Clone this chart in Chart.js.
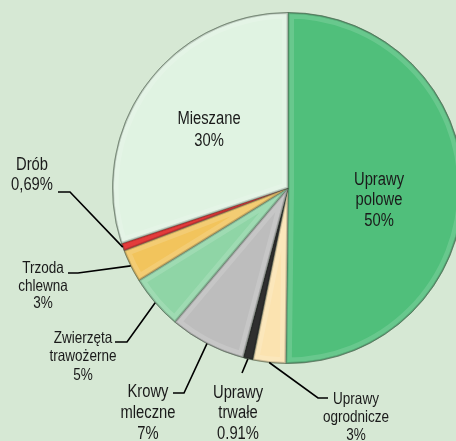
<!DOCTYPE html>
<html>
<head>
<meta charset="utf-8">
<script src="https://cdn.jsdelivr.net/npm/chart.js@4"></script>
<style>
  html, body { margin: 0; padding: 0; background: #d6e8d4; }
  #wrap { width: 456px; height: 441px; overflow: hidden; position: relative; background: #d6e8d4; }
  canvas { display: block; }
</style>
</head>
<body>
<div id="wrap"><canvas id="c" width="480" height="441" style="width:480px;height:441px"></canvas></div>
<script>
// ---- data ----
const categories = ["Uprawy polowe", "Uprawy ogrodnicze", "Uprawy trwałe", "Krowy mleczne",
                    "Zwierzęta trawożerne", "Trzoda chlewna", "Drób", "Mieszane"];
const shares = [50, 3, 0.91, 7, 5, 3, 0.69, 30];
const labelLines = [
  ["Uprawy", "polowe", "50%"],
  ["Uprawy", "ogrodnicze", "3%"],
  ["Uprawy", "trwałe", "0.91%"],
  ["Krowy", "mleczne", "7%"],
  ["Zwierzęta", "trawożerne", "5%"],
  ["Trzoda", "chlewna", "3%"],
  ["Drób", "0,69%"],
  ["Mieszane", "30%"]
];
const sliceColors = ["#50bf7b", "#fbe3b0", "#0d0d0d", "#bdbdbd", "#8fd5a6", "#f2c45c", "#e01b1b", "#e0f3e2"];

// ---- label layout (styling / placement only) ----
const BIG = "18px 'Liberation Sans', Arial, sans-serif";
const SMALL = "16.5px 'Liberation Sans', Arial, sans-serif";
const NARROW = 0.82;
const layout = [
  { inside: true, x: 379, y: [180, 200.5, 221], font: BIG },
  { elbow: [318, 398], end: [328, 398], x: 356, y: [399, 417, 435], font: SMALL },
  { elbow: [242, 373], end: null, x: 238, y: [393, 413.5, 434], font: BIG },
  { elbow: [184, 393], end: [173, 393], x: 148, y: [392, 413, 434], font: BIG },
  { elbow: [127, 342], end: [115, 342], x: 83, y: [338, 356, 375], font: SMALL },
  { elbow: [78, 273], end: [68, 273], x: 43, y: [268, 286, 303], font: SMALL },
  { elbow: [70, 192], end: [58, 192], x: 32, y: [165, 185], font: BIG },
  { inside: true, x: 209, y: [119, 141], font: BIG }
];

const bevelPlugin = {
  id: 'bevel',
  afterDatasetsDraw(chart) {
    const ctx = chart.ctx;
    const meta = chart.getDatasetMeta(0);
    meta.data.forEach((arc, i) => {
      const p = arc.getProps(['x', 'y', 'startAngle', 'endAngle', 'outerRadius']);
      ctx.save();
      ctx.beginPath();
      ctx.moveTo(p.x, p.y);
      ctx.arc(p.x, p.y, p.outerRadius, p.startAngle, p.endAngle);
      ctx.closePath();
      ctx.clip();
      ctx.lineJoin = 'round';
      ctx.strokeStyle = 'rgba(255,255,255,0.14)';
      ctx.lineWidth = 12;
      ctx.stroke();
      ctx.strokeStyle = 'rgba(0,0,0,0.16)';
      ctx.lineWidth = 3;
      ctx.stroke();
      ctx.restore();
    });
    const a0 = meta.data[0];
    ctx.save();
    ctx.beginPath();
    ctx.arc(a0.x, a0.y, a0.outerRadius, 0, Math.PI * 2);
    ctx.strokeStyle = 'rgba(70,90,70,0.4)';
    ctx.lineWidth = 1;
    ctx.stroke();
    ctx.restore();
  }
};

const labelPlugin = {
  id: 'labels',
  afterDraw(chart) {
    const ctx = chart.ctx;
    const meta = chart.getDatasetMeta(0);
    meta.data.forEach((arc, i) => {
      const L = layout[i];
      const p = arc.getProps(['x', 'y', 'startAngle', 'endAngle', 'outerRadius']);
      if (!L.inside) {
        const mid = (p.startAngle + p.endAngle) / 2;
        const sx = p.x + Math.cos(mid) * p.outerRadius;
        const sy = p.y + Math.sin(mid) * p.outerRadius;
        ctx.save();
        ctx.strokeStyle = '#000';
        ctx.lineWidth = 1.6;
        ctx.beginPath();
        ctx.moveTo(sx, sy);
        ctx.lineTo(L.elbow[0], L.elbow[1]);
        if (L.end) ctx.lineTo(L.end[0], L.end[1]);
        ctx.stroke();
        ctx.restore();
      }
      labelLines[i].forEach((t, k) => {
        ctx.save();
        ctx.fillStyle = '#1a1a1a';
        ctx.font = L.font;
        ctx.textAlign = 'center';
        ctx.textBaseline = 'middle';
        ctx.translate(L.x, L.y[k]);
        ctx.scale(NARROW, 1);
        ctx.fillText(t, 0, 0);
        ctx.restore();
      });
    });
  }
};

new Chart(document.getElementById('c'), {
  type: 'pie',
  data: {
    labels: categories,
    datasets: [{
      data: shares,
      backgroundColor: sliceColors,
      borderColor: 'rgba(40,60,40,0.35)',
      borderWidth: 1,
      hoverOffset: 0,
      offset: 0
    }]
  },
  options: {
    responsive: false,
    animation: false,
    devicePixelRatio: 1,
    layout: { padding: { left: 112, right: 16, top: 12, bottom: 77 } },
    plugins: { legend: { display: false }, tooltip: { enabled: false } }
  },
  plugins: [bevelPlugin, labelPlugin]
});
</script>
</body>
</html>
